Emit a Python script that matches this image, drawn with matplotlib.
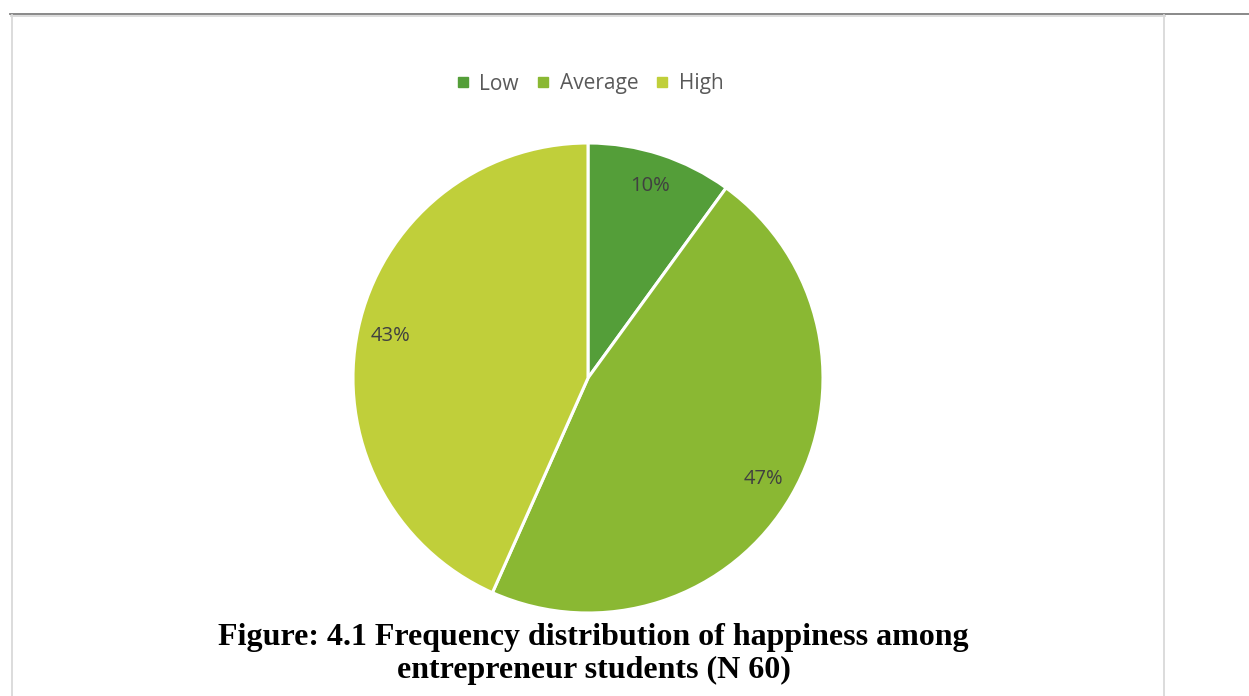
import matplotlib.pyplot as plt
from matplotlib.lines import Line2D

# datos (N = 60)
categorias = ['Low', 'Average', 'High']
frecuencias = [6, 28, 26]
colores = ['#549E39', '#8AB833', '#C0CF3A']

W, H = 1249, 696
fig = plt.figure(figsize=(W / 100, H / 100), dpi=100)

# bordes de la celda de la tabla
fig.add_artist(Line2D([10 / W, 1], [1 - 13.8 / H] * 2, color='#808080', lw=1.3))
fig.add_artist(Line2D([11 / W, 1165 / W], [1 - 15.6 / H] * 2, color='#d9d9d9', lw=1.3))
fig.add_artist(Line2D([11.8 / W] * 2, [0, 1 - 15 / H], color='#d9d9d9', lw=1.3))
fig.add_artist(Line2D([1164.2 / W] * 2, [0, 1 - 15 / H], color='#d9d9d9', lw=1.3))

# pastel
cx, cy, r = 588, 378, 235
ax = fig.add_axes([(cx - r) / W, 1 - (cy + r) / H, 2 * r / W, 2 * r / H])
wedges, textos, pcts = ax.pie(frecuencias, colors=colores, startangle=90, counterclock=False,
                              autopct=lambda p: f'{p:.0f}%', pctdistance=0.86,
                              wedgeprops=dict(edgecolor='white', linewidth=2.2),
                              textprops=dict(color='#404040', fontsize=14.5, family='Open Sans'))
ax.set_xlim(-1, 1)
ax.set_ylim(-1, 1)
ax.set_aspect('equal')

# leyenda
handles = [Line2D([], [], marker='s', ls='', markersize=6.5, color=c) for c in colores]
fig.legend(handles, categorias, loc='center', bbox_to_anchor=(588 / W, 1 - 84 / H), ncol=3,
           frameon=False, handletextpad=0.3, columnspacing=0.65, handlelength=1.0,
           prop=dict(family='Open Sans', size=15), labelcolor='#595959')

# título de la figura
fig.text(593 / W, 1 - 637 / H, 'Figure: 4.1 Frequency distribution of happiness among',
         ha='center', va='center', family='Liberation Serif', weight='bold', fontsize=23)
fig.text(594 / W, 1 - 670 / H, 'entrepreneur students (N 60)',
         ha='center', va='center', family='Liberation Serif', weight='bold', fontsize=23)

fig.savefig('out.png', dpi=100)
